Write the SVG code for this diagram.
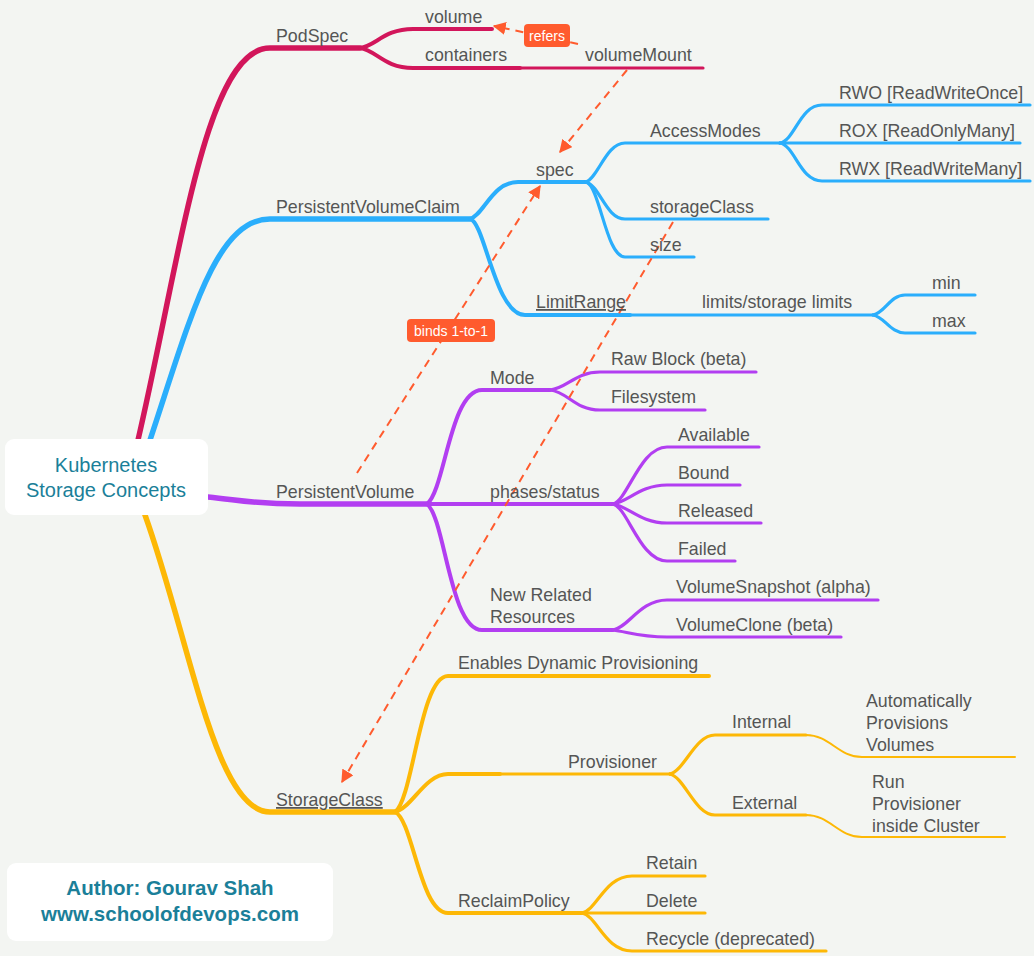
<svg xmlns="http://www.w3.org/2000/svg" width="1034" height="956" viewBox="0 0 1034 956">
<defs>
<style>
text{font-family:"Liberation Sans",Arial,sans-serif;font-size:17.8px;fill:#555}
.c{fill:none;stroke-linecap:round}
.pk{stroke:#d2165b}.bl{stroke:#2aaefc}.pu{stroke:#b23ef1}.ye{stroke:#fdb806}
.w1{stroke-width:5.5}.w2{stroke-width:4}.w3{stroke-width:3.2}.w4{stroke-width:2}
.d{fill:none;stroke:#ff5b2e;stroke-width:2;stroke-dasharray:8 6}
.lb{fill:#ff5b2e}
.lt{fill:#fff;font-size:14px}
.root{fill:#1b7f99;font-size:20px}
.auth{fill:#1b7f99;font-size:20.5px;font-weight:bold}
.u{text-decoration:underline}
</style>
<marker id="ah" viewBox="0 0 10 10" refX="9" refY="5" markerWidth="13" markerHeight="13" markerUnits="userSpaceOnUse" orient="auto"><path d="M0,0 L10,5 L0,10 z" fill="#ff5b2e"/></marker>
</defs>
<rect width="1034" height="956" fill="#f3f5f2"/>
<g id="branches">
<path class="c pk w1" d="M138,440 C180,260 205,48 270,48 L360,48"/>
<path class="c pk w2" d="M360,48 C376,46 384,29 413,29 L492,29"/>
<path class="c pk w2" d="M360,48 C376,50 384,68 413,68 L520,68"/>
<path class="c pk w3" d="M520,68 L703,68"/>
<path class="c bl w1" d="M150,440 C190,320 215,219 270,219 L470,219"/>
<path class="c bl w2" d="M470,219 C484,215 492,182 518,182 L586,182"/>
<path class="c bl w2" d="M470,219 C485,222 495,315 525,315 L630,315"/>
<path class="c bl w3" d="M630,315 L873,315"/>
<path class="c bl w3" d="M586,182 C598,178 606,143 625,143 L780,143"/>
<path class="c bl w3" d="M586,182 C600,186 606,219 625,219 L768,219"/>
<path class="c bl w3" d="M586,182 C600,186 606,257 625,257 L694,257"/>
<path class="c bl w3" d="M780,143 C795,140 800,105 822,105 L1030,105"/>
<path class="c bl w3" d="M780,143 L1020,143"/>
<path class="c bl w3" d="M780,143 C795,146 800,181 822,181 L1030,181"/>
<path class="c bl w3" d="M873,315 C885,313 890,295 905,295 L975,295"/>
<path class="c bl w3" d="M873,315 C885,317 890,333 905,333 L975,333"/>
<path class="c pu w1" d="M208,497 C240,500 250,504 300,504 L427,504"/>
<path class="c pu w2" d="M427,504 C445,490 450,390 482,390 L550,390"/>
<path class="c pu w2" d="M427,504 L613,504"/>
<path class="c pu w2" d="M427,504 C445,518 450,630 482,630 L613,630"/>
<path class="c pu w3" d="M550,390 C568,388 575,372 600,372 L756,372"/>
<path class="c pu w3" d="M550,390 C568,392 575,410 600,410 L705,410"/>
<path class="c pu w3" d="M613,504 C628,500 640,447 667,447 L759,447"/>
<path class="c pu w3" d="M613,504 C628,502 640,485 667,485 L740,485"/>
<path class="c pu w3" d="M613,504 C628,506 640,523 667,523 L761,523"/>
<path class="c pu w3" d="M613,504 C628,508 640,561 667,561 L735,561"/>
<path class="c pu w3" d="M613,630 C628,628 640,600 667,600 L878,600"/>
<path class="c pu w3" d="M613,630 C628,632 640,637 667,637 L841,637"/>
<path class="c ye w1" d="M145,515 C190,640 215,812 270,812 L395,812"/>
<path class="c ye w2" d="M395,812 C413,800 420,676 448,676 L709,676"/>
<path class="c ye w2" d="M395,812 C412,808 425,774 448,774 L500,774"/>
<path class="c ye w3" d="M500,774 L670,774"/>
<path class="c ye w2" d="M395,812 C413,820 420,913 448,913 L582,913"/>
<path class="c ye w3" d="M670,774 C685,770 695,735 715,735 L806,735"/>
<path class="c ye w3" d="M670,774 C685,778 695,815 715,815 L806,815"/>
<path class="c ye w4" d="M806,735 C830,735 838,757 862,757 L1015,757"/>
<path class="c ye w4" d="M806,815 C830,815 838,837 862,837 L1005,837"/>
<path class="c ye w3" d="M582,913 C597,910 605,876 632,876 L705,876"/>
<path class="c ye w3" d="M582,913 L705,913"/>
<path class="c ye w3" d="M582,913 C597,916 605,951 632,951 L826,951"/>
</g>
<g id="connectors">
<path class="d" d="M578,44 L494,26" marker-end="url(#ah)"/>
<path class="d" d="M627,70 L560,152" marker-end="url(#ah)"/>
<path class="d" d="M357,473 L540,186" marker-end="url(#ah)"/>
<path class="d" d="M673,222 L342,782" marker-end="url(#ah)"/>
</g>
<g id="label-refers"><rect class="lb" x="524" y="24" width="46" height="23" rx="4"/><text class="lt" x="547" y="40.5" text-anchor="middle">refers</text></g>
<g id="label-binds"><rect class="lb" x="407" y="319" width="88" height="23" rx="4"/><text class="lt" x="451" y="335.5" text-anchor="middle">binds 1-to-1</text></g>
<g id="root"><rect x="5" y="439" width="203" height="76" rx="9" fill="#fff"/><text class="root" x="106" y="472" text-anchor="middle">Kubernetes</text><text class="root" x="106" y="497" text-anchor="middle">Storage Concepts</text></g>
<g id="author"><rect x="7" y="863" width="326" height="78" rx="9" fill="#fff"/><text class="auth" x="170" y="895" text-anchor="middle">Author: Gourav Shah</text><text class="auth" x="170" y="921" text-anchor="middle">www.schoolofdevops.com</text></g>
<g id="n-podspec"><text x="276" y="42">PodSpec</text></g>
<g id="n-volume"><text x="425" y="23">volume</text></g>
<g id="n-containers"><text x="425" y="61">containers</text></g>
<g id="n-volumemount"><text x="585" y="61">volumeMount</text></g>
<g id="n-pvc"><text x="276" y="213">PersistentVolumeClaim</text></g>
<g id="n-spec"><text x="536" y="176">spec</text></g>
<g id="n-accessmodes"><text x="650" y="137">AccessModes</text></g>
<g id="n-rwo"><text x="839" y="99">RWO [ReadWriteOnce]</text></g>
<g id="n-rox"><text x="839" y="137">ROX [ReadOnlyMany]</text></g>
<g id="n-rwx"><text x="839" y="175">RWX [ReadWriteMany]</text></g>
<g id="n-storageclass-field"><text x="650" y="213">storageClass</text></g>
<g id="n-size"><text x="650" y="251">size</text></g>
<g id="n-limitrange"><text class="u" x="536" y="308">LimitRange</text></g>
<g id="n-limits"><text x="702" y="308">limits/storage limits</text></g>
<g id="n-min"><text x="932" y="289">min</text></g>
<g id="n-max"><text x="932" y="327">max</text></g>
<g id="n-pv"><text x="276" y="498">PersistentVolume</text></g>
<g id="n-mode"><text x="490" y="384">Mode</text></g>
<g id="n-rawblock"><text x="611" y="365">Raw Block (beta)</text></g>
<g id="n-filesystem"><text x="611" y="403">Filesystem</text></g>
<g id="n-phases"><text x="490" y="498">phases/status</text></g>
<g id="n-available"><text x="678" y="441">Available</text></g>
<g id="n-bound"><text x="678" y="479">Bound</text></g>
<g id="n-released"><text x="678" y="517">Released</text></g>
<g id="n-failed"><text x="678" y="555">Failed</text></g>
<g id="n-newrelated"><text x="490" y="601">New Related</text><text x="490" y="623">Resources</text></g>
<g id="n-snapshot"><text x="676" y="593">VolumeSnapshot (alpha)</text></g>
<g id="n-clone"><text x="676" y="631">VolumeClone (beta)</text></g>
<g id="n-storageclass"><text class="u" x="276" y="806">StorageClass</text></g>
<g id="n-enables"><text x="458" y="669">Enables Dynamic Provisioning</text></g>
<g id="n-provisioner"><text x="568" y="768">Provisioner</text></g>
<g id="n-internal"><text x="732" y="728">Internal</text></g>
<g id="n-auto"><text x="866" y="707">Automatically</text><text x="866" y="729">Provisions</text><text x="866" y="751">Volumes</text></g>
<g id="n-external"><text x="732" y="809">External</text></g>
<g id="n-run"><text x="872" y="788">Run</text><text x="872" y="810">Provisioner</text><text x="872" y="832">inside Cluster</text></g>
<g id="n-reclaim"><text x="458" y="907">ReclaimPolicy</text></g>
<g id="n-retain"><text x="646" y="869">Retain</text></g>
<g id="n-delete"><text x="646" y="907">Delete</text></g>
<g id="n-recycle"><text x="646" y="945">Recycle (deprecated)</text></g>
</svg>
